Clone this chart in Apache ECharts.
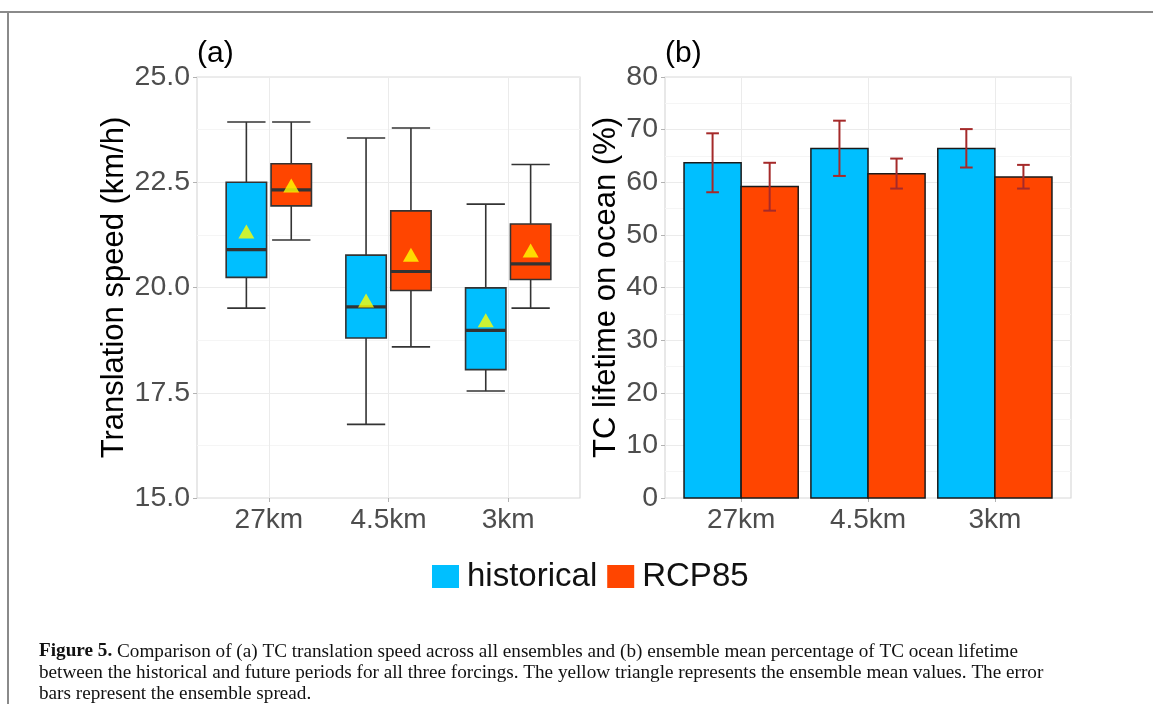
<!DOCTYPE html>
<html><head><meta charset="utf-8">
<script src="https://cdn.jsdelivr.net/npm/echarts@6/dist/echarts.min.js"></script>
<style>html,body{margin:0;padding:0;background:#fff}#c{width:1153px;height:704px}</style>
</head><body><div id="c"></div>
<script>
// ---------- data ----------
const categories = ['27km', '4.5km', '3km'];
const seriesNames = ['historical', 'RCP85'];
// panel (a): [lower whisker, Q1, median, Q3, upper whisker]
const histBox = [[19.51, 20.24, 20.90, 22.50, 23.93], [16.75, 18.80, 19.54, 20.77, 23.55], [17.54, 18.05, 18.98, 19.99, 21.98]];
const rcpBox  = [[21.13, 21.94, 22.32, 22.94, 23.93], [18.59, 19.93, 20.38, 21.82, 23.79], [19.51, 20.19, 20.56, 21.51, 22.92]];
const histMean = [21.33, 19.69, 19.22];
const rcpMean  = [22.42, 20.78, 20.88];
// panel (b): ensemble mean percentage and spread [low, high]
const histOcean = [63.7, 66.4, 66.4];
const rcpOcean  = [59.2, 61.6, 61.0];
const histErr = [[58.1, 69.3], [61.2, 71.7], [62.8, 70.1]];
const rcpErr  = [[54.6, 63.7], [58.8, 64.5], [58.8, 63.3]];
// tick labels
const speedTicks = ['15.0', '17.5', '20.0', '22.5', '25.0'];
const oceanTicks = ['0', '10', '20', '30', '40', '50', '60', '70', '80'];

// ---------- styling ----------
const C_HIST = '#00BFFF', C_RCP = '#FF4500';
const DODGE = 0.1875, BOX_W = 0.3375, CAP_W = 0.32, BAR_W = 0.45, ERR_CAP = 0.1;
const LBL = '#4d4d4d', FONT = 'Liberation Sans';

function boxRender(color) {
  return function (params, api) {
    const x = api.value(0);
    const lo = api.value(1), q1 = api.value(2), med = api.value(3), q3 = api.value(4), hi = api.value(5);
    const hw = api.size([BOX_W, 0])[0] / 2;
    const cw = api.size([CAP_W, 0])[0] / 2;
    const cx = api.coord([x, med])[0];
    const y = v => api.coord([x, v])[1];
    const ls = { stroke: '#333333', lineWidth: 1.6 };
    return { type: 'group', children: [
      { type: 'line', shape: { x1: cx, y1: y(hi), x2: cx, y2: y(q3) }, style: ls },
      { type: 'line', shape: { x1: cx, y1: y(q1), x2: cx, y2: y(lo) }, style: ls },
      { type: 'line', shape: { x1: cx - cw, y1: y(hi), x2: cx + cw, y2: y(hi) }, style: ls },
      { type: 'line', shape: { x1: cx - cw, y1: y(lo), x2: cx + cw, y2: y(lo) }, style: ls },
      { type: 'rect', shape: { x: cx - hw, y: y(q3), width: 2 * hw, height: y(q1) - y(q3) }, style: { fill: color, stroke: '#333333', lineWidth: 1.6 } },
      { type: 'line', shape: { x1: cx - hw, y1: y(med), x2: cx + hw, y2: y(med) }, style: { stroke: '#333333', lineWidth: 3.2 } }
    ]};
  };
}
function barRender(color) {
  return function (params, api) {
    const x = api.value(0), v = api.value(1);
    const p1 = api.coord([x - BAR_W / 2, v]);
    const p2 = api.coord([x + BAR_W / 2, 0]);
    return { type: 'rect', shape: { x: p1[0], y: p1[1], width: p2[0] - p1[0], height: p2[1] - p1[1] },
      style: { fill: color, stroke: '#1a1a1a', lineWidth: 1.5 } };
  };
}
function errRender(params, api) {
  const x = api.value(0), lo = api.value(1), hi = api.value(2);
  const cw = api.size([ERR_CAP, 0])[0] / 2;
  const cx = api.coord([x, lo])[0];
  const ylo = api.coord([x, lo])[1], yhi = api.coord([x, hi])[1];
  const s = { stroke: '#a52a2a', lineWidth: 2 };
  return { type: 'group', children: [
    { type: 'line', shape: { x1: cx, y1: yhi, x2: cx, y2: ylo }, style: s },
    { type: 'line', shape: { x1: cx - cw, y1: yhi, x2: cx + cw, y2: yhi }, style: s },
    { type: 'line', shape: { x1: cx - cw, y1: ylo, x2: cx + cw, y2: ylo }, style: s }
  ]};
}

const catPos = categories.map((c, i) => i + 1);
const xAxisBase = (gi) => ({
  type: 'value', gridIndex: gi, min: 0.4, max: 3.6,
  axisLine: { show: false },
  axisTick: { show: true, length: 4, lineStyle: { color: '#b3b3b3' }, customValues: catPos },
  axisLabel: { customValues: catPos, formatter: v => categories[Math.round(v) - 1] || '', fontSize: 28, color: LBL, fontFamily: FONT, margin: 8 },
  splitLine: { show: true, lineStyle: { color: '#ebebeb', width: 1 } }
});

const speedMin = parseFloat(speedTicks[0]), speedMax = parseFloat(speedTicks[speedTicks.length - 1]);
const oceanMin = parseFloat(oceanTicks[0]), oceanMax = parseFloat(oceanTicks[oceanTicks.length - 1]);

const option = {
  animation: false,
  backgroundColor: '#ffffff',
  grid: [
    { left: 197, top: 77, width: 383, height: 421, show: true, borderColor: '#d9d9d9', borderWidth: 1.2, backgroundColor: '#fff' },
    { left: 665, top: 77, width: 406, height: 421, show: true, borderColor: '#d9d9d9', borderWidth: 1.2, backgroundColor: '#fff' }
  ],
  xAxis: [xAxisBase(0), xAxisBase(1)],
  yAxis: [
    { type: 'value', gridIndex: 0, min: speedMin, max: speedMax, interval: 2.5,
      name: 'Translation speed (km/h)', nameLocation: 'middle', nameGap: 67,
      nameTextStyle: { fontSize: 31, color: '#000', fontFamily: FONT },
      axisLine: { show: false }, axisTick: { show: true, length: 4, lineStyle: { color: '#b3b3b3' } },
      axisLabel: { formatter: v => speedTicks[Math.round((v - speedMin) / 2.5)], fontSize: 28.5, color: LBL, fontFamily: FONT, margin: 7 },
      splitLine: { lineStyle: { color: '#ebebeb', width: 1 } },
      minorTick: { show: false, splitNumber: 2 },
      minorSplitLine: { show: true, lineStyle: { color: '#f5f5f5', width: 1 } } },
    { type: 'value', gridIndex: 1, min: oceanMin, max: oceanMax, interval: 10,
      name: 'TC lifetime on ocean (%)', nameLocation: 'middle', nameGap: 43,
      nameTextStyle: { fontSize: 31, color: '#000', fontFamily: FONT },
      axisLine: { show: false }, axisTick: { show: true, length: 4, lineStyle: { color: '#b3b3b3' } },
      axisLabel: { formatter: v => oceanTicks[Math.round(v / 10)], fontSize: 28.5, color: LBL, fontFamily: FONT, margin: 7 },
      splitLine: { lineStyle: { color: '#ebebeb', width: 1 } },
      minorTick: { show: false, splitNumber: 2 },
      minorSplitLine: { show: true, lineStyle: { color: '#f5f5f5', width: 1 } } }
  ],
  legend: {
    left: 427, top: 555, itemWidth: 27, itemHeight: 23, itemGap: 10, icon: 'rect', selectedMode: false,
    textStyle: { fontSize: 33, color: '#111', fontFamily: FONT, padding: [0, 0, 0, 3] },
    data: [
      { name: seriesNames[0], itemStyle: { color: C_HIST, borderWidth: 0 } },
      { name: seriesNames[1], itemStyle: { color: C_RCP, borderWidth: 0 } }
    ]
  },
  graphic: [
    { type: 'line', shape: { x1: 0, y1: 12, x2: 1153, y2: 12 }, style: { stroke: '#8a8a8a', lineWidth: 2 } },
    { type: 'line', shape: { x1: 8, y1: 12, x2: 8, y2: 704 }, style: { stroke: '#8a8a8a', lineWidth: 2 } },
    { type: 'text', left: 197, top: 39, style: { text: '(a)', fontSize: 30, fill: '#000', fontFamily: FONT } },
    { type: 'text', left: 665, top: 39, style: { text: '(b)', fontSize: 30, fill: '#000', fontFamily: FONT } },
    { type: 'text', left: 39, top: 641, style: {
      text: '{b|Figure 5.} Comparison of (a) TC translation speed across all ensembles and (b) ensemble mean percentage of TC ocean lifetime\nbetween the historical and future periods for all three forcings. The yellow triangle represents the ensemble mean values. The error\nbars represent the ensemble spread.',
      fontSize: 19.2, fontFamily: 'Liberation Serif', fill: '#111', lineHeight: 21,
      rich: { b: { fontWeight: 'bold', fontSize: 19.2, fontFamily: 'Liberation Serif', fill: '#111', lineHeight: 21 } }
    } }
  ],
  series: [
    { name: seriesNames[0], type: 'custom', xAxisIndex: 0, yAxisIndex: 0, renderItem: boxRender(C_HIST),
      itemStyle: { color: C_HIST }, encode: { x: 0, y: [1, 2, 3, 4, 5] },
      data: histBox.map((b, i) => [catPos[i] - DODGE].concat(b)) },
    { name: seriesNames[1], type: 'custom', xAxisIndex: 0, yAxisIndex: 0, renderItem: boxRender(C_RCP),
      itemStyle: { color: C_RCP }, encode: { x: 0, y: [1, 2, 3, 4, 5] },
      data: rcpBox.map((b, i) => [catPos[i] + DODGE].concat(b)) },
    { name: 'mean-hist', type: 'scatter', xAxisIndex: 0, yAxisIndex: 0, symbol: 'triangle', symbolSize: [16, 14], z: 5,
      itemStyle: { color: '#ffff00' }, data: histMean.map((m, i) => [catPos[i] - DODGE, m]) },
    { name: 'mean-rcp', type: 'scatter', xAxisIndex: 0, yAxisIndex: 0, symbol: 'triangle', symbolSize: [16, 14], z: 5,
      itemStyle: { color: '#ffff00' }, data: rcpMean.map((m, i) => [catPos[i] + DODGE, m]) },
    { name: seriesNames[0], type: 'custom', xAxisIndex: 1, yAxisIndex: 1, renderItem: barRender(C_HIST),
      itemStyle: { color: C_HIST }, encode: { x: 0, y: 1 },
      data: histOcean.map((v, i) => [catPos[i] - BAR_W / 2, v]) },
    { name: seriesNames[1], type: 'custom', xAxisIndex: 1, yAxisIndex: 1, renderItem: barRender(C_RCP),
      itemStyle: { color: C_RCP }, encode: { x: 0, y: 1 },
      data: rcpOcean.map((v, i) => [catPos[i] + BAR_W / 2, v]) },
    { name: 'err-hist', type: 'custom', xAxisIndex: 1, yAxisIndex: 1, renderItem: errRender, z: 5,
      encode: { x: 0, y: [1, 2] }, data: histErr.map((e, i) => [catPos[i] - BAR_W / 2].concat(e)) },
    { name: 'err-rcp', type: 'custom', xAxisIndex: 1, yAxisIndex: 1, renderItem: errRender, z: 5,
      encode: { x: 0, y: [1, 2] }, data: rcpErr.map((e, i) => [catPos[i] + BAR_W / 2].concat(e)) }
  ]
};
const chart = echarts.init(document.getElementById('c'), null, { renderer: 'canvas' });
chart.setOption(option);
</script>
</body></html>
